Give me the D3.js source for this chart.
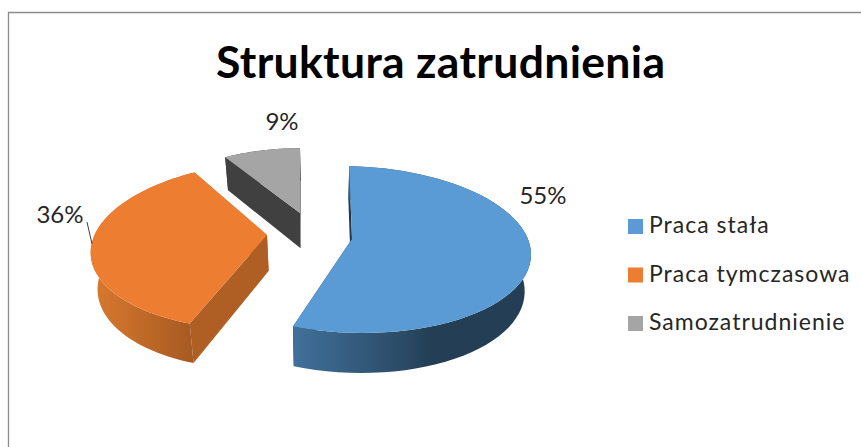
<!DOCTYPE html>
<html><head><meta charset="utf-8">
<script src="https://cdnjs.cloudflare.com/ajax/libs/d3/7.8.5/d3.min.js"></script>
<style>html,body{margin:0;padding:0;background:#fff}svg{display:block}text{font-family:Lato,"Open Sans",sans-serif;fill:#262626}</style>
</head><body><svg id="c" width="861" height="447"></svg>
<script>
const categories = ["Praca stała", "Praca tymczasowa", "Samozatrudnienie"];
const values = [55, 36, 9];
const labels = ["55%", "36%", "9%"];
const colors = ["#5b9bd5", "#ed7d31", "#a5a5a5"];
const titleText = "Struktura zatrudnienia";

// layout of the exploded 3D pie
const apexes = [[352, 239], [267, 235], [300, 213]];
const turn = [-1, 5, 0].map(d => d * Math.PI / 180);
const widen = [1, 0.985, 0.87];
const deepen = [1, 1, 0.89];
const shear = [5, -7, 0];
const R = 177.6, K = 82, P = 0.126;
const wallStops = [
  [[291, "#41719c"], [400, "#2c4c68"], [432, "#233e55"], [531, "#233e55"]],
  [[92, "#d9792e"], [193, "#a65a22"]],
  [[224, "#404040"], [301, "#404040"]]
];
const faceStart = ["#1f3a52", "#af5f23", "#404040"];

const svg = d3.select("#c");
const defs = svg.append("defs");
const pie = d3.pie().value(d => d).sort(null);
const arcs = pie(values);
const line = d3.line();

function upper(i, a) {
  const t = a + turn[i], Y = -Math.cos(t), X = Math.sin(t), s = 1 / (1 - P * Y);
  return [apexes[i][0] + R * widen[i] * X * s, apexes[i][1] + (K * deepen[i] * Y + shear[i] * X) * s];
}
const low = p => [320 + (p[0] - 320) * 0.97, 26.7 + 1.04 * p[1]];

// chart frame
svg.append("path").attr("d", line([[8.5, 447], [8.5, 12.5], [861, 12.5]]))
  .attr("fill", "none").attr("stroke", "#8c8c8c").attr("stroke-width", 1.3);

svg.append("text").attr("x", 440.5).attr("y", 78).attr("text-anchor", "middle")
  .attr("font-size", 44.5).attr("font-weight", 700).attr("textLength", 449)
  .style("fill", "#000").text(titleText);

arcs.forEach((d, i) => {
  const steps = d3.range(0, 61).map(k => d.startAngle + (d.endAngle - d.startAngle) * k / 60);
  const rim = steps.map(a => upper(i, a));
  const apex = apexes[i];
  const gid = "wall" + i;
  const g = defs.append("linearGradient").attr("id", gid).attr("gradientUnits", "userSpaceOnUse")
    .attr("x1", wallStops[i][0][0]).attr("x2", wallStops[i][wallStops[i].length - 1][0]).attr("y1", 0).attr("y2", 0);
  const x0 = wallStops[i][0][0], x1 = wallStops[i][wallStops[i].length - 1][0];
  wallStops[i].forEach(s => g.append("stop").attr("offset", (s[0] - x0) / (x1 - x0)).attr("stop-color", s[1]));

  const a = rim[0], b = rim[rim.length - 1];
  // end-cut faces
  svg.append("path").attr("d", line([apex, a, low(a), low(apex)]) + "Z").attr("fill", faceStart[i]);
  svg.append("path").attr("d", line([apex, b, low(b), low(apex)]) + "Z").attr("fill", faceStart[i]);
  // outer wall
  svg.append("path").attr("d", line(rim.concat(rim.map(low).reverse())) + "Z").attr("fill", `url(#${gid})`);
  // upper surface
  svg.append("path").attr("class", "slice").attr("d", line([apex].concat(rim)) + "Z").attr("fill", colors[i]);
});

// leader line for 36%
svg.append("path").attr("d", line([[87, 222], [92, 244]])).attr("fill", "none").attr("stroke", "#404040").attr("stroke-width", 1);

const labelPos = [[543, 204], [60, 223], [282, 130]];
labels.forEach((t, i) => svg.append("text").attr("x", labelPos[i][0]).attr("y", labelPos[i][1])
  .attr("text-anchor", "middle").attr("font-size", 24).text(t));

const ly = d3.scalePoint().domain(categories).range([226, 323]);
categories.forEach((c, i) => {
  svg.append("rect").attr("x", 628).attr("y", ly(c) - 7).attr("width", 15).attr("height", 15).attr("fill", colors[i]);
  svg.append("text").attr("x", 649).attr("y", ly(c) + 7).attr("font-size", 23).attr("letter-spacing", 1).text(c);
});
</script></body></html>
